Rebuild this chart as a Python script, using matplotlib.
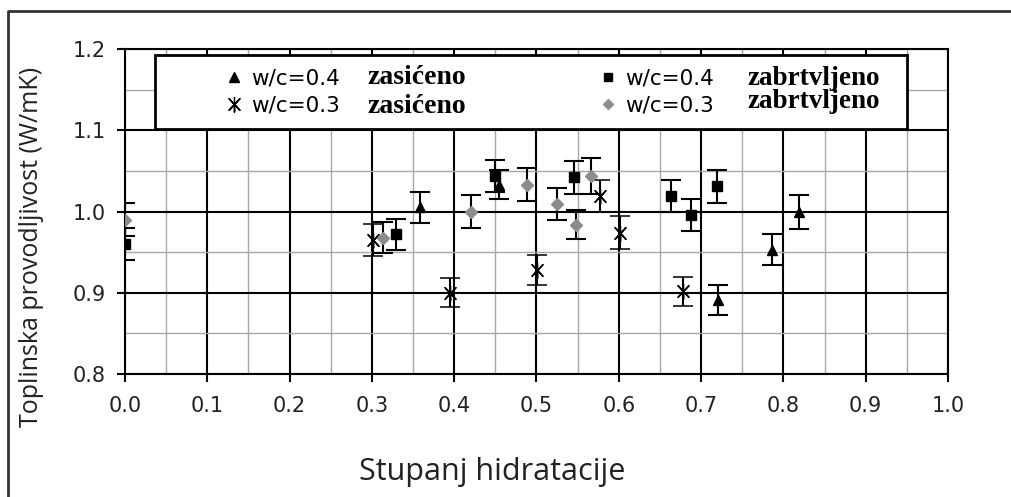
import matplotlib
matplotlib.use("Agg")
import matplotlib.pyplot as plt
from matplotlib.lines import Line2D
from matplotlib.patches import Rectangle

# data (x = stupanj hidratacije, y = W/mK)
tri_x = [0.359, 0.455, 0.721, 0.786, 0.819]
tri_y = [1.005, 1.033, 0.891, 0.953, 0.999]
tri_err = [0.019, 0.018, 0.018, 0.019, 0.021]

ast_x = [0.301, 0.395, 0.501, 0.577, 0.602, 0.678]
ast_y = [0.965, 0.900, 0.928, 1.019, 0.974, 0.902]
ast_err = [0.020, 0.018, 0.019, 0.020, 0.020, 0.018]

sq_x = [0.0, 0.329, 0.449, 0.545, 0.663, 0.688, 0.719]
sq_y = [0.960, 0.972, 1.044, 1.042, 1.019, 0.996, 1.031]
sq_err = [0.020, 0.019, 0.020, 0.020, 0.020, 0.020, 0.020]

dia_x = [0.0, 0.313, 0.420, 0.488, 0.525, 0.548, 0.566]
dia_y = [0.990, 0.968, 1.000, 1.033, 1.009, 0.984, 1.044]
dia_err = [0.020, 0.019, 0.020, 0.020, 0.020, 0.018, 0.022]

labels_wc = ["w/c=0.4", "w/c=0.3"]
labels_state = ["zasićeno", "zabrtvljeno"]

gray = "#8c8c8c"
# asterisk: vertical bar plus a steep X
ast_marker = [(0, 1), (0, -1), (0, 0), (0.7, 0.75), (-0.7, -0.75), (0, 0),
              (0.7, -0.75), (-0.7, 0.75), (0, 0)]

fig = plt.figure(figsize=(10.12, 4.97), dpi=100)
ax = fig.add_axes([125 / 1012, 123 / 497, 823 / 1012, 325 / 497])

eb = dict(ls="none", ecolor="black", elinewidth=1.5, capsize=7, capthick=1.5, zorder=3)
ax.errorbar(tri_x, tri_y, yerr=tri_err, marker="^", ms=7, color="black", **eb)
ax.errorbar(ast_x, ast_y, yerr=ast_err, marker=ast_marker, ms=11, mew=1.1,
            color="black", mfc="none", **eb)
ax.errorbar(sq_x, sq_y, yerr=sq_err, marker="s", ms=7, color="black", **eb)
ax.errorbar(dia_x, dia_y, yerr=dia_err, marker="D", ms=6, color=gray, mec=gray, **eb)

ax.set_xlim(0, 1.0)
ax.set_ylim(0.8, 1.2)
ax.set_xticks([i / 10 for i in range(11)])
ax.set_yticks([0.8, 0.9, 1.0, 1.1, 1.2])
ax.set_xticks([0.05 + i / 10 for i in range(10)], minor=True)
ax.set_yticks([0.85, 0.95, 1.05, 1.15], minor=True)
ax.xaxis.set_major_formatter(plt.FormatStrFormatter("%.1f"))
ax.yaxis.set_major_formatter(plt.FormatStrFormatter("%.1f"))
ax.grid(which="major", color="black", lw=1.5, zorder=1)
ax.grid(which="minor", color="#a8a8a8", lw=1.0, zorder=1)
ax.set_axisbelow(True)
ax.tick_params(which="major", direction="out", length=6, width=1.5,
               labelsize=15, labelcolor="#222222")
ax.tick_params(axis="x", which="major", pad=10)
ax.tick_params(axis="y", which="major", pad=8)
ax.tick_params(which="minor", length=0)
for s in ax.spines.values():
    s.set_linewidth(1.5)

# legend box
ax.add_patch(Rectangle((30 / 823, (374 - 129) / 325), 752 / 823, 74 / 325,
                       transform=ax.transAxes, facecolor="white",
                       edgecolor="black", lw=2, zorder=4, clip_on=False))

h_tri = Line2D([], [], ls="none", marker="^", ms=7, color="black")
h_ast = Line2D([], [], ls="none", marker=ast_marker, ms=11, mew=1.1, color="black")
h_sq = Line2D([], [], ls="none", marker="s", ms=6, color="black")
h_dia = Line2D([], [], ls="none", marker="D", ms=5, color=gray)

leg_kw = dict(loc="center left", frameon=False, fontsize=15.5, handlelength=0.8,
              handletextpad=0.4, labelspacing=0.3, borderpad=0, borderaxespad=0)
leg1 = ax.legend([h_tri, h_ast], labels_wc, bbox_to_anchor=(100 / 823, 282 / 325), **leg_kw)
leg1.set_zorder(5)
ax.add_artist(leg1)
leg2 = ax.legend([h_sq, h_dia], labels_wc, bbox_to_anchor=(474 / 823, 282 / 325), **leg_kw)
leg2.set_zorder(5)

serif = dict(family="Liberation Serif", fontweight="bold", fontsize=20,
             transform=ax.transAxes, va="center", ha="left", zorder=6)
ax.text(242 / 823, 297 / 325, labels_state[0], **serif)
ax.text(242 / 823, 268 / 325, labels_state[0], **serif)
ax.text(622 / 823, 296 / 325, labels_state[1], fontsize=19.5,
        **{k: v for k, v in serif.items() if k != "fontsize"})
ax.text(622 / 823, 273 / 325, labels_state[1], fontsize=19.5,
        **{k: v for k, v in serif.items() if k != "fontsize"})

fig.text(32 / 1012, 1 - 247 / 497, "Toplinska provodljivost (W/mK)", rotation=90,
         ha="center", va="center", family="Open Sans", fontsize=18, color="#222222")
fig.text(492 / 1012, 1 - 472 / 497, "Stupanj hidratacije", ha="center", va="center",
         family="Open Sans", fontsize=22, color="#222222")

# outer frame (top and left edges visible in the original)
fig.add_artist(Line2D([8 / 1012, 8 / 1012, 1.0], [0.0, 1 - 11 / 497, 1 - 11 / 497],
                      transform=fig.transFigure, color="#333333", lw=2))

fig.savefig("out.png", dpi=100)
